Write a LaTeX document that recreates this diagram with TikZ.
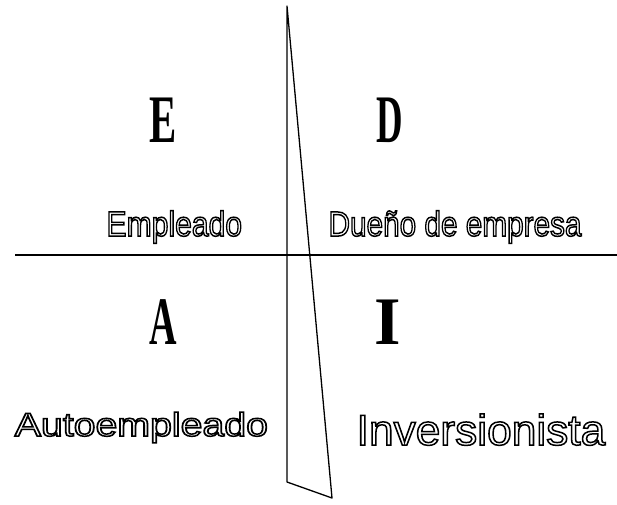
\documentclass[tikz,border=0pt]{standalone}
\usepackage{fontspec}
\setmainfont{Liberation Serif}
\setsansfont{Liberation Sans}
\newcommand{\hueca}[1]{\special{pdf:code q 1 Tr 1.5 w 0 G}#1\special{pdf:code Q}}

\begin{document}
\begin{tikzpicture}[x=1pt,y=-1pt,line width=1.3pt,
    letra/.style={font=\fontsize{68}{68}\selectfont\bfseries,inner sep=0pt,anchor=base,transform shape},
    rotulo/.style={inner sep=0pt,anchor=base west,transform shape}]
            \useasboundingbox (0,0) rectangle (617,504);

            % cuadrantes
            \node[letra,xscale=0.6]  (E) at (163.5,142) {E};
            \node[letra,xscale=0.54] (D) at (390,142)   {D};
            \node[letra,xscale=0.56] (A) at (163.5,344) {A};
            \node[letra]             (I) at (387.5,344) {I};

            \node[rotulo,xscale=0.86,font=\sffamily\fontsize{35}{35}\selectfont] (empleado) at (106,236) {\hueca{Empleado}};
            \node[rotulo,xscale=0.85,font=\sffamily\fontsize{35}{35}\selectfont] (duenio) at (328,236) {\hueca{Dueño de empresa}};
            \node[rotulo,xscale=1.19,font=\sffamily\fontsize{33}{33}\selectfont] (auto) at (14,436) {\hueca{Autoempleado}};
            \node[rotulo,xscale=1.03,font=\sffamily\fontsize{43}{43}\selectfont] (inversor) at (356,445) {\hueca{Inversionista}};

            % lineas
            \coordinate (izq) at (15,255);
            \coordinate (der) at (617,255);
            \coordinate (cima) at (287,6);
            \coordinate (pie) at (287,482);
            \coordinate (punta) at (332,498);

            \draw (izq) -- (der);
            \draw[line join=round] (cima) -- (pie) -- (punta) -- cycle;
        \end{tikzpicture}
\end{document}
